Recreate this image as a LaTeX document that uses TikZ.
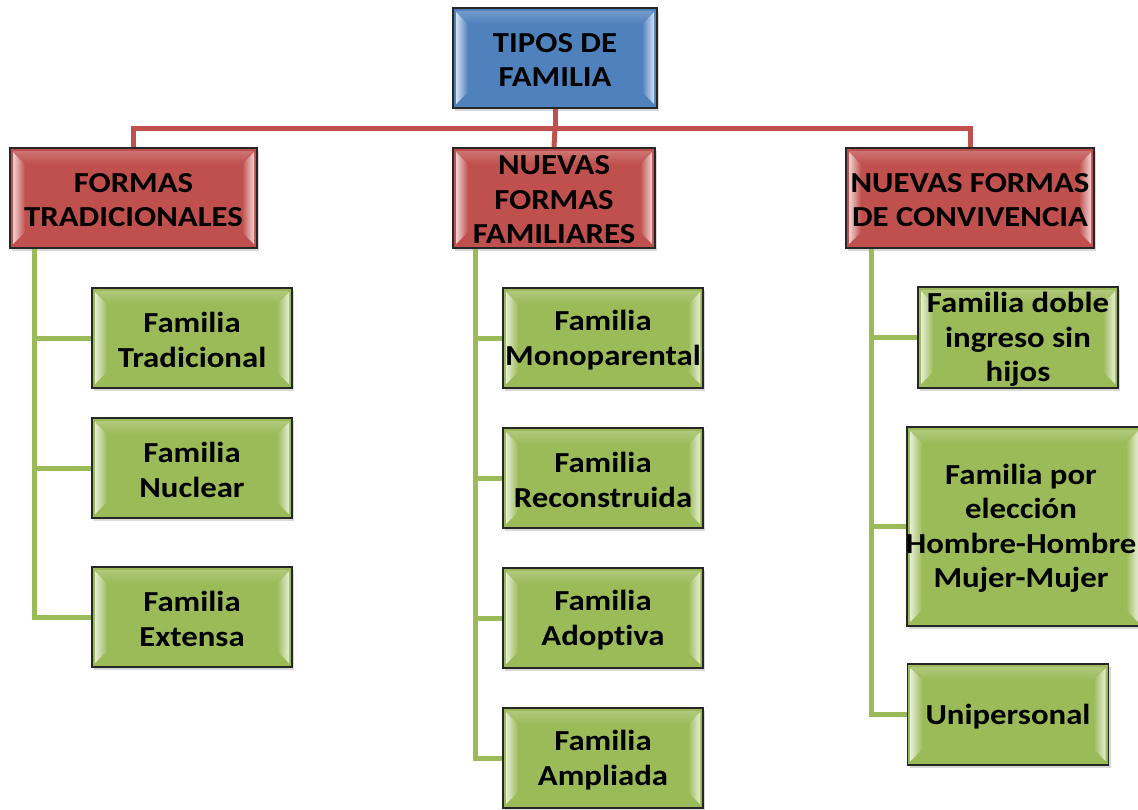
\documentclass[tikz,border=0pt]{standalone}
\usepackage{fontspec}
\setmainfont{Carlito}[FakeStretch=1.13, Ligatures=NoCommon]
\usetikzlibrary{shadows}
\definecolor{cblue}{HTML}{4F81BD}
\definecolor{cred}{HTML}{C0504D}
\definecolor{cgreen}{HTML}{9BBB59}
\tikzset{
  bx/.style={draw=black!85, line width=1.6pt, inner sep=0pt, fill=#1,
    drop shadow={opacity=0.3, shadow xshift=2pt, shadow yshift=-3pt},
    path picture={
      \coordinate (pbnw) at (path picture bounding box.north west);
      \coordinate (pbse) at (path picture bounding box.south east);
      \coordinate (pbne) at (path picture bounding box.north east);
      \coordinate (pbsw) at (path picture bounding box.south west);
      \fill[left color=white!75!#1, right color=#1]
        ([shift={(3pt,-4pt)}]pbnw) -- ([shift={(15pt,-16pt)}]pbnw) --
        ([shift={(15pt,16pt)}]pbsw) -- ([shift={(3pt,4pt)}]pbsw) -- cycle;
      \fill[right color=white!75!#1, left color=#1]
        ([shift={(-3pt,-4pt)}]pbne) -- ([shift={(-15pt,-16pt)}]pbne) --
        ([shift={(-15pt,16pt)}]pbse) -- ([shift={(-3pt,4pt)}]pbse) -- cycle;
      \fill[top color=white!35!#1, bottom color=#1, opacity=0.6]
        ([shift={(3pt,-3pt)}]pbnw) -- ([shift={(-3pt,-3pt)}]pbne) --
        ([shift={(-15pt,-16pt)}]pbne) -- ([shift={(15pt,-16pt)}]pbnw) -- cycle;
    }},
  bluebox/.style={bx=cblue},
  redbox/.style={bx=cred},
  greenbox/.style={bx=cgreen},
  lbl/.style={align=center, inner sep=0pt, text=black, yshift=-2pt,
    font=\fontsize{29}{34.5}\selectfont\bfseries},
  redline/.style={draw=cred, line width=5pt},
  greenline/.style={draw=cgreen, line width=5pt},
}
\begin{document}
\begin{tikzpicture}[x=1pt, y=-1pt]
\useasboundingbox (0,0) rectangle (1138,809);

% top
\node[bluebox, minimum width=204, minimum height=100] (top) at (555,58) {};
\node[lbl] (topt) at (top) {TIPOS DE\\FAMILIA};

% red
\node[redbox, minimum width=247, minimum height=100] (r1) at (133.5,198) {};
\node[lbl] (r1t) at (r1) {FORMAS\\TRADICIONALES};
\node[redbox, minimum width=202, minimum height=100] (r2) at (554,198) {};
\node[lbl] (r2t) at (r2) {NUEVAS\\FORMAS\\FAMILIARES};
\node[redbox, minimum width=248, minimum height=100] (r3) at (970,198) {};
\node[lbl] (r3t) at (r3) {NUEVAS FORMAS\\DE CONVIVENCIA};

% green left
\node[greenbox, minimum width=200, minimum height=100] (a1) at (192,338) {};
\node[lbl] (a1t) at (a1) {Familia\\Tradicional};
\node[greenbox, minimum width=200, minimum height=100] (a2) at (192,468) {};
\node[lbl] (a2t) at (a2) {Familia\\Nuclear};
\node[greenbox, minimum width=200, minimum height=100] (a3) at (192,617) {};
\node[lbl] (a3t) at (a3) {Familia\\Extensa};

% green middle
\node[greenbox, minimum width=200, minimum height=100] (b1) at (603,338) {};
\node[lbl] (b1t) at (b1) {Familia\\Monoparental};
\node[greenbox, minimum width=200, minimum height=100] (b2) at (603,478) {};
\node[lbl] (b2t) at (b2) {Familia\\Reconstruida};
\node[greenbox, minimum width=200, minimum height=100] (b3) at (603,618) {};
\node[lbl] (b3t) at (b3) {Familia\\Adoptiva};
\node[greenbox, minimum width=200, minimum height=100] (b4) at (603,758) {};
\node[lbl] (b4t) at (b4) {Familia\\Ampliada};

% green right
\node[greenbox, minimum width=200, minimum height=101] (c1) at (1018,337.5) {};
\node[lbl] (c1t) at (c1) {Familia doble\\ingreso sin\\hijos};
\node[greenbox, minimum width=234, minimum height=199] (c2) at (1024,526.5) {};
\node[lbl, xshift=-3pt] (c2t) at (c2) {Familia por\\elección\\Hombre-Hombre\\Mujer-Mujer};
\node[greenbox, minimum width=201, minimum height=101] (c3) at (1008,714.5) {};
\node[lbl] (c3t) at (c3) {Unipersonal};

% red connectors
\coordinate (hub) at (555,128);
\draw[redline] (top.south) -- (hub);
\draw[redline] (hub) -- (r2.north);
\draw[redline] (r1.north) |- (hub) -| (r3.north);

% green connectors
\foreach \n in {a1,a2,a3}
  \draw[greenline] ([xshift=25pt]r1.south west) |- (\n.west);
\foreach \n in {b1,b2,b3,b4}
  \draw[greenline] ([xshift=23pt]r2.south west) |- (\n.west);
\foreach \n in {c1,c2,c3}
  \draw[greenline] ([xshift=26pt]r3.south west) |- (\n.west);
\end{tikzpicture}
\end{document}
